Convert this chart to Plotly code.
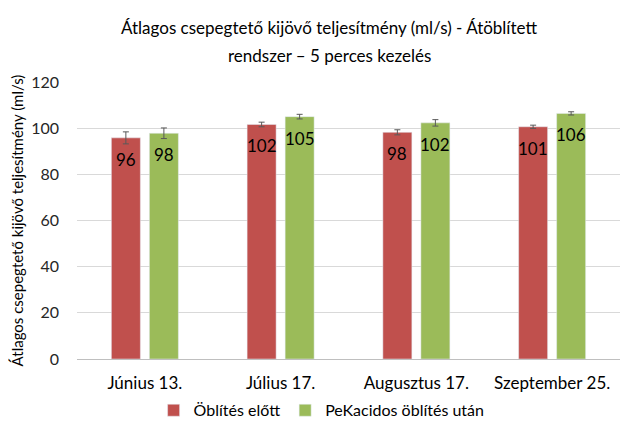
import plotly.graph_objects as go

categories = ["Június 13.", "Július 17.", "Augusztus 17.", "Szeptember 25."]
before = [95.8, 101.6, 98.2, 100.6]
after = [97.8, 105.0, 102.3, 106.4]
before_err = [2.6, 1.0, 1.1, 0.7]
after_err = [2.3, 1.0, 1.4, 0.7]
before_labels = ["96", "102", "98", "101"]
after_labels = ["98", "105", "102", "106"]

font_family = "Lato, Open Sans, sans-serif"

fig = go.Figure()

fig.add_trace(
    go.Bar(
        x=categories,
        y=before,
        name="Öblítés előtt",
        marker_color="#C0504D",
        error_y=dict(type="data", array=before_err, color="#595959", thickness=1, width=3),
    )
)
fig.add_trace(
    go.Bar(
        x=categories,
        y=after,
        name="PeKacidos öblítés után",
        marker_color="#9BBB59",
        error_y=dict(type="data", array=after_err, color="#595959", thickness=1, width=3),
    )
)

# data labels inside the bars, a little below the top
for labels, vals, shift in [(before_labels, before, -19), (after_labels, after, 19)]:
    for cat, v, t in zip(categories, vals, labels):
        fig.add_annotation(
            x=cat, y=v, text=t, showarrow=False,
            xshift=shift, yshift=-9, yanchor="top",
            font=dict(size=17, color="black"),
        )

# title, two lines
fig.add_annotation(
    x=0.465, y=1.195, xref="paper", yref="paper", yanchor="middle",
    text="Átlagos csepegtető kijövő teljesítmény (ml/s) - Átöblített",
    showarrow=False, font=dict(size=17, color="black"),
)
fig.add_annotation(
    x=0.465, y=1.095, xref="paper", yref="paper", yanchor="middle",
    text="rendszer – 5 perces kezelés",
    showarrow=False, font=dict(size=17, color="black"),
)

fig.update_layout(
    width=621,
    height=428,
    barmode="group",
    bargap=0.44,
    bargroupgap=0.237,
    plot_bgcolor="white",
    paper_bgcolor="white",
    font=dict(family=font_family, size=15, color="#262626"),
    margin=dict(l=69, r=9, t=74, b=77),
    legend=dict(
        orientation="h",
        x=0.505,
        xanchor="center",
        xref="container",
        y=0.06,
        yanchor="middle",
        yref="container",
        font=dict(size=16, color="black"),
    ),
)

fig.update_yaxes(
    range=[0, 120],
    dtick=20,
    showgrid=True,
    gridcolor="#D9D9D9",
    zeroline=False,
    showline=False,
    ticks="",
    automargin=False,
    ticklabelstandoff=17,
    title=dict(
        text="Átlagos csepegtető kijövő teljesítmény (ml/s)",
        font=dict(size=15, color="black"),
        standoff=22,
    ),
    tickfont=dict(size=16, color="#262626"),
)
fig.update_xaxes(
    showline=True,
    linecolor="#BFBFBF",
    ticks="",
    automargin=False,
    ticklabelstandoff=9,
    tickfont=dict(size=17, color="black"),
)

fig.write_html("out.html")
